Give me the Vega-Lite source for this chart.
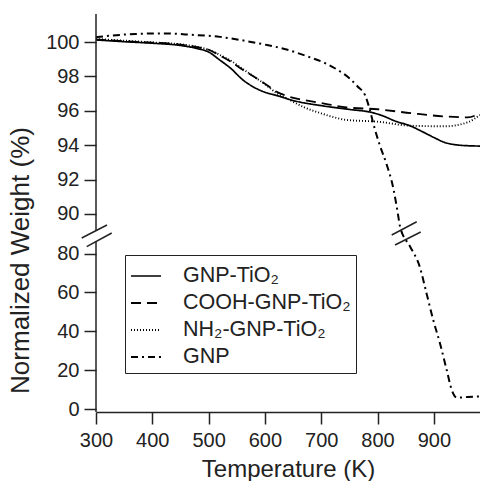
{
  "$schema": "https://vega.github.io/schema/vega-lite/v6.json",
  "autosize": "none",
  "padding": {"left": 96, "top": 14, "right": 0, "bottom": 69},
  "width": 384,
  "height": 398,
  "background": "white",
  "config": {
    "view": {"stroke": null},
    "font": "Liberation Sans",
    "axis": {
      "grid": false,
      "labelFont": "Liberation Sans",
      "titleFont": "Liberation Sans",
      "labelColor": "#222",
      "titleColor": "#222",
      "tickColor": "#222",
      "domainColor": "#222",
      "tickWidth": 1.5,
      "domainWidth": 1.5,
      "tickSize": 12,
      "labelFontSize": 20,
      "labelOverlap": false,
      "labelFlush": false,
      "titleFontWeight": "normal"
    }
  },
  "datasets": {
    "curves": [
      {"series": "GNP-TiO₂", "T": 300, "W": 100.12},
      {"series": "GNP-TiO₂", "T": 350, "W": 100.02},
      {"series": "GNP-TiO₂", "T": 400, "W": 99.93},
      {"series": "GNP-TiO₂", "T": 450, "W": 99.8},
      {"series": "GNP-TiO₂", "T": 480, "W": 99.62},
      {"series": "GNP-TiO₂", "T": 500, "W": 99.42},
      {"series": "GNP-TiO₂", "T": 520, "W": 98.95},
      {"series": "GNP-TiO₂", "T": 540, "W": 98.45},
      {"series": "GNP-TiO₂", "T": 560, "W": 97.82},
      {"series": "GNP-TiO₂", "T": 580, "W": 97.38},
      {"series": "GNP-TiO₂", "T": 600, "W": 97.08},
      {"series": "GNP-TiO₂", "T": 620, "W": 96.9},
      {"series": "GNP-TiO₂", "T": 650, "W": 96.6},
      {"series": "GNP-TiO₂", "T": 700, "W": 96.3},
      {"series": "GNP-TiO₂", "T": 750, "W": 96.08},
      {"series": "GNP-TiO₂", "T": 790, "W": 95.9},
      {"series": "GNP-TiO₂", "T": 810, "W": 95.7},
      {"series": "GNP-TiO₂", "T": 830, "W": 95.42},
      {"series": "GNP-TiO₂", "T": 860, "W": 95.1},
      {"series": "GNP-TiO₂", "T": 880, "W": 94.78},
      {"series": "GNP-TiO₂", "T": 900, "W": 94.45},
      {"series": "GNP-TiO₂", "T": 920, "W": 94.15},
      {"series": "GNP-TiO₂", "T": 940, "W": 94.02},
      {"series": "GNP-TiO₂", "T": 960, "W": 93.97},
      {"series": "GNP-TiO₂", "T": 982, "W": 93.95},
      {"series": "COOH-GNP-TiO₂", "T": 300, "W": 100.15},
      {"series": "COOH-GNP-TiO₂", "T": 350, "W": 100.05},
      {"series": "COOH-GNP-TiO₂", "T": 400, "W": 99.97},
      {"series": "COOH-GNP-TiO₂", "T": 450, "W": 99.85},
      {"series": "COOH-GNP-TiO₂", "T": 480, "W": 99.7},
      {"series": "COOH-GNP-TiO₂", "T": 500, "W": 99.55},
      {"series": "COOH-GNP-TiO₂", "T": 520, "W": 99.22},
      {"series": "COOH-GNP-TiO₂", "T": 540, "W": 98.85},
      {"series": "COOH-GNP-TiO₂", "T": 560, "W": 98.4},
      {"series": "COOH-GNP-TiO₂", "T": 580, "W": 98.0},
      {"series": "COOH-GNP-TiO₂", "T": 600, "W": 97.58},
      {"series": "COOH-GNP-TiO₂", "T": 620, "W": 97.12},
      {"series": "COOH-GNP-TiO₂", "T": 640, "W": 96.85},
      {"series": "COOH-GNP-TiO₂", "T": 670, "W": 96.62},
      {"series": "COOH-GNP-TiO₂", "T": 700, "W": 96.45},
      {"series": "COOH-GNP-TiO₂", "T": 745, "W": 96.2},
      {"series": "COOH-GNP-TiO₂", "T": 800, "W": 96.09},
      {"series": "COOH-GNP-TiO₂", "T": 860, "W": 95.86},
      {"series": "COOH-GNP-TiO₂", "T": 920, "W": 95.67},
      {"series": "COOH-GNP-TiO₂", "T": 960, "W": 95.62},
      {"series": "COOH-GNP-TiO₂", "T": 982, "W": 95.85},
      {"series": "NH₂-GNP-TiO₂", "T": 300, "W": 100.18},
      {"series": "NH₂-GNP-TiO₂", "T": 350, "W": 100.08},
      {"series": "NH₂-GNP-TiO₂", "T": 400, "W": 99.98},
      {"series": "NH₂-GNP-TiO₂", "T": 450, "W": 99.87},
      {"series": "NH₂-GNP-TiO₂", "T": 480, "W": 99.72},
      {"series": "NH₂-GNP-TiO₂", "T": 500, "W": 99.55},
      {"series": "NH₂-GNP-TiO₂", "T": 520, "W": 99.25},
      {"series": "NH₂-GNP-TiO₂", "T": 540, "W": 98.9},
      {"series": "NH₂-GNP-TiO₂", "T": 560, "W": 98.45},
      {"series": "NH₂-GNP-TiO₂", "T": 580, "W": 98.0},
      {"series": "NH₂-GNP-TiO₂", "T": 600, "W": 97.55},
      {"series": "NH₂-GNP-TiO₂", "T": 620, "W": 97.05},
      {"series": "NH₂-GNP-TiO₂", "T": 640, "W": 96.7},
      {"series": "NH₂-GNP-TiO₂", "T": 670, "W": 96.2},
      {"series": "NH₂-GNP-TiO₂", "T": 700, "W": 95.85},
      {"series": "NH₂-GNP-TiO₂", "T": 745, "W": 95.47},
      {"series": "NH₂-GNP-TiO₂", "T": 800, "W": 95.37},
      {"series": "NH₂-GNP-TiO₂", "T": 860, "W": 95.13},
      {"series": "NH₂-GNP-TiO₂", "T": 920, "W": 95.1},
      {"series": "NH₂-GNP-TiO₂", "T": 960, "W": 95.33},
      {"series": "NH₂-GNP-TiO₂", "T": 982, "W": 95.76},
      {"series": "GNP", "T": 300, "W": 100.28},
      {"series": "GNP", "T": 330, "W": 100.38},
      {"series": "GNP", "T": 370, "W": 100.47},
      {"series": "GNP", "T": 420, "W": 100.5},
      {"series": "GNP", "T": 470, "W": 100.42},
      {"series": "GNP", "T": 520, "W": 100.3},
      {"series": "GNP", "T": 556, "W": 100.12},
      {"series": "GNP", "T": 600, "W": 99.85},
      {"series": "GNP", "T": 640, "W": 99.55},
      {"series": "GNP", "T": 674, "W": 99.18},
      {"series": "GNP", "T": 705, "W": 98.8},
      {"series": "GNP", "T": 733, "W": 98.3},
      {"series": "GNP", "T": 750, "W": 97.9},
      {"series": "GNP", "T": 765, "W": 97.4},
      {"series": "GNP", "T": 778, "W": 96.9},
      {"series": "GNP", "T": 786, "W": 96.1},
      {"series": "GNP", "T": 793, "W": 95.2},
      {"series": "GNP", "T": 804, "W": 94.0},
      {"series": "GNP", "T": 816, "W": 92.9},
      {"series": "GNP", "T": 828, "W": 91.5},
      {"series": "GNP", "T": 836, "W": 90.05},
      {"series": "GNP", "T": 840, "W": 89.26},
      {"series": "GNP", "T": 858, "W": 83.5},
      {"series": "GNP", "T": 875, "W": 73.2},
      {"series": "GNP", "T": 887, "W": 59.6},
      {"series": "GNP", "T": 899, "W": 45.8},
      {"series": "GNP", "T": 911, "W": 33.8},
      {"series": "GNP", "T": 923, "W": 20.0},
      {"series": "GNP", "T": 932, "W": 9.8},
      {"series": "GNP", "T": 941, "W": 6.0},
      {"series": "GNP", "T": 960, "W": 6.3},
      {"series": "GNP", "T": 982, "W": 6.6}
    ],
    "axisSegs": [
      {"T": 300, "W": 89.01, "W2": 101.63},
      {"T": 300, "W": -1.39, "W2": 86.42}
    ],
    "breaks": [
      {"T": 274.6, "T2": 319.5, "W": 87.2, "W2": 89.36},
      {"T": 283.5, "T2": 327.9, "W": 83.49, "W2": 88.49},
      {"T": 825.2, "T2": 869.6, "W": 87.97, "W2": 89.55},
      {"T": 831.1, "T2": 876.7, "W": 84.36, "W2": 88.75}
    ]
  },
  "layer": [
    {
      "data": {"name": "curves"},
      "mark": {"type": "line", "color": "black", "interpolate": "monotone"},
      "encoding": {
        "x": {
          "field": "T",
          "type": "quantitative",
          "scale": {"domain": [300, 982], "nice": false, "zero": false},
          "axis": {
            "values": [300, 400, 500, 600, 700, 800, 900],
            "tickCount": 20,
            "title": "Temperature (K)",
            "titleFont": "Liberation Sans",
            "titleFontSize": 24,
            "labelFont": "Liberation Sans",
            "labelFontSize": 20,
            "labelFlush": false,
            "labelOverlap": false,
            "labelPadding": 6,
            "titlePadding": 7
          }
        },
        "y": {
          "field": "W",
          "type": "quantitative",
          "scale": {
            "domain": [-1.39, 86.42, 89.01, 101.63],
            "range": [398, 227, 217, 0],
            "nice": false,
            "zero": false
          },
          "axis": {
            "values": [0, 20, 40, 60, 80, 90, 92, 94, 96, 98, 100],
            "tickCount": 30,
            "domain": false,
            "title": "Normalized Weight (%)",
            "titleFont": "Liberation Sans",
            "titleFontSize": 26,
            "labelFont": "Liberation Sans",
            "labelFontSize": 20,
            "labelFlush": false,
            "labelOverlap": false,
            "labelPadding": 5,
            "titleX": -63,
            "titleY": 246,
            "titleBaseline": "bottom"
          }
        },
        "strokeDash": {
          "field": "series",
          "type": "nominal",
          "scale": {
            "domain": ["GNP-TiO₂", "COOH-GNP-TiO₂", "NH₂-GNP-TiO₂", "GNP"],
            "range": [[1, 0], [10, 6], [1, 2], [7, 4, 2, 4]]
          },
          "legend": {
            "title": null,
            "orient": "none",
            "legendX": 29,
            "legendY": 241,
            "strokeColor": "#222",
            "padding": 5,
            "symbolType": "stroke",
            "symbolSize": 900,
            "symbolStrokeColor": "black",
            "labelFontSize": 21.5,
            "labelFont": "Liberation Sans",
            "labelColor": "#222",
            "labelLimit": 400,
            "labelOffset": 21,
            "rowPadding": 0
          }
        },
        "strokeWidth": {
          "field": "series",
          "type": "nominal",
          "scale": {
            "domain": ["GNP-TiO₂", "COOH-GNP-TiO₂", "NH₂-GNP-TiO₂", "GNP"],
            "range": [1.7, 2, 1.4, 2]
          },
          "legend": {
            "title": null,
            "orient": "none",
            "legendX": 29,
            "legendY": 241,
            "strokeColor": "#222",
            "padding": 5,
            "symbolType": "stroke",
            "symbolSize": 900,
            "symbolStrokeColor": "black",
            "labelFontSize": 21.5,
            "labelFont": "Liberation Sans",
            "labelColor": "#222",
            "labelLimit": 400,
            "labelOffset": 21,
            "rowPadding": 0
          }
        }
      }
    },
    {
      "data": {"name": "axisSegs"},
      "mark": {"type": "rule", "color": "#222", "strokeWidth": 1.5},
      "encoding": {
        "x": {"field": "T", "type": "quantitative"},
        "y": {"field": "W", "type": "quantitative"},
        "y2": {"field": "W2"}
      }
    },
    {
      "data": {"name": "breaks"},
      "mark": {"type": "rule", "color": "#222", "strokeWidth": 1.5},
      "encoding": {
        "x": {"field": "T", "type": "quantitative"},
        "x2": {"field": "T2"},
        "y": {"field": "W", "type": "quantitative"},
        "y2": {"field": "W2"}
      }
    }
  ]
}
